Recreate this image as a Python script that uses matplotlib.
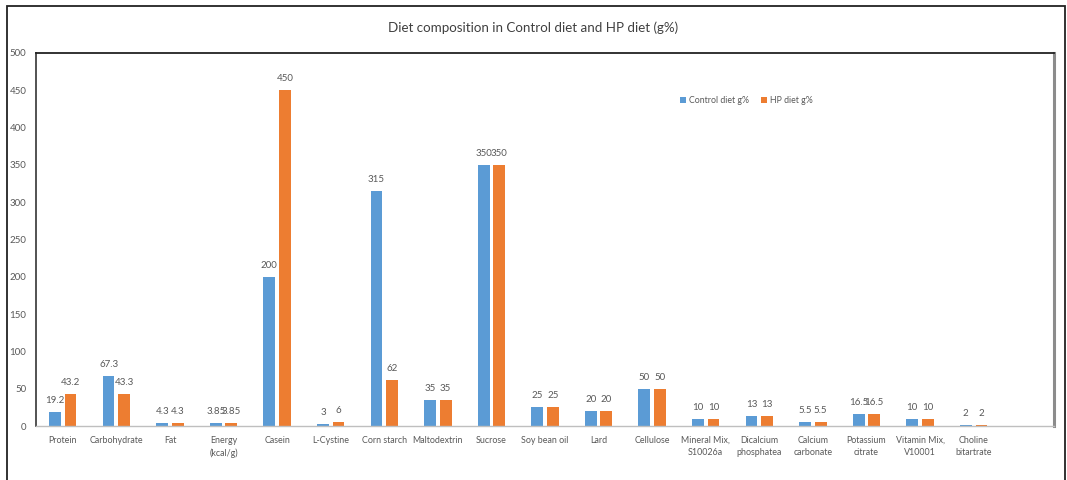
import numpy as np
import matplotlib
matplotlib.use("Agg")
import matplotlib.pyplot as plt
from matplotlib.patches import Rectangle

plt.rcParams["font.family"] = ["Lato", "DejaVu Sans"]

categories = ["Protein", "Carbohydrate", "Fat", "Energy\n(kcal/g)", "Casein",
              "L-Cystine", "Corn starch", "Maltodextrin", "Sucrose",
              "Soy bean oil", "Lard", "Cellulose", "Mineral Mix,\nS10026a",
              "Dicalcium\nphosphatea", "Calcium\ncarbonate", "Potassium\ncitrate",
              "Vitamin Mix,\nV10001", "Choline\nbitartrate", ""]
control = [19.2, 67.3, 4.3, 3.85, 200, 3, 315, 35, 350, 25, 20, 50, 10, 13, 5.5, 16.5, 10, 2]
hp = [43.2, 43.3, 4.3, 3.85, 450, 6, 62, 35, 350, 25, 20, 50, 10, 13, 5.5, 16.5, 10, 2]
yticks = list(range(0, 501, 50))

BLUE = "#5B9BD5"
ORANGE = "#ED7D31"
GREY = "#595959"

fig = plt.figure(figsize=(10.67, 4.8), dpi=100)
ax = fig.add_axes([36 / 1067, 1 - 426 / 480, (1054 - 36) / 1067, (426 - 53) / 480])

x = np.arange(len(categories))
w = 0.22
off = 0.145
b1 = ax.bar(x[:len(control)] - off, control, w, color=BLUE, label="Control diet g%")
b2 = ax.bar(x[:len(hp)] + off, hp, w, color=ORANGE, label="HP diet g%")

for bars, vals in ((b1, control), (b2, hp)):
    for b, v in zip(bars, vals):
        ax.annotate(f"{v:g}", (b.get_x() + b.get_width() / 2, v),
                    xytext=(0, 5), textcoords="offset points",
                    ha="center", va="bottom", fontsize=7, color=GREY)

ax.set_xlim(-0.5, len(categories) - 0.5)
ax.set_ylim(0, 500)
ax.set_yticks(yticks)
ax.set_xticks(x)
ax.set_xticklabels(categories, fontsize=6.4, color=GREY, linespacing=1.5)
ax.tick_params(axis="y", labelsize=7, labelcolor=GREY, length=0, pad=7)
ax.tick_params(axis="x", length=0, pad=7)

ax.spines["top"].set_color("#222222")
ax.spines["left"].set_color("#444444")
ax.spines["top"].set_linewidth(1.3)
ax.spines["left"].set_linewidth(1.3)
ax.spines["right"].set_color("#8c8c8c")
ax.spines["right"].set_linewidth(2.2)
ax.spines["bottom"].set_color("#bfbfbf")
ax.spines["bottom"].set_linewidth(1.0)

ax.legend(loc="upper left", bbox_to_anchor=(0.625, 0.905), ncol=2, frameon=False,
          fontsize=6.3, labelcolor=GREY, handlelength=0.7, handleheight=0.7,
          handletextpad=0.3, columnspacing=1.4)

fig.text(0.5, 1 - 28 / 480, "Diet composition in Control diet and HP diet (g%)",
         ha="center", va="center", fontsize=9.6, color="#404040")

fig.patches.append(Rectangle((7 / 1067, -0.05), (1065 - 7) / 1067, 1.05 - 6 / 480,
                             transform=fig.transFigure, fill=False,
                             edgecolor="#222222", linewidth=1.3))

fig.savefig("out.png", dpi=100, facecolor="white")
